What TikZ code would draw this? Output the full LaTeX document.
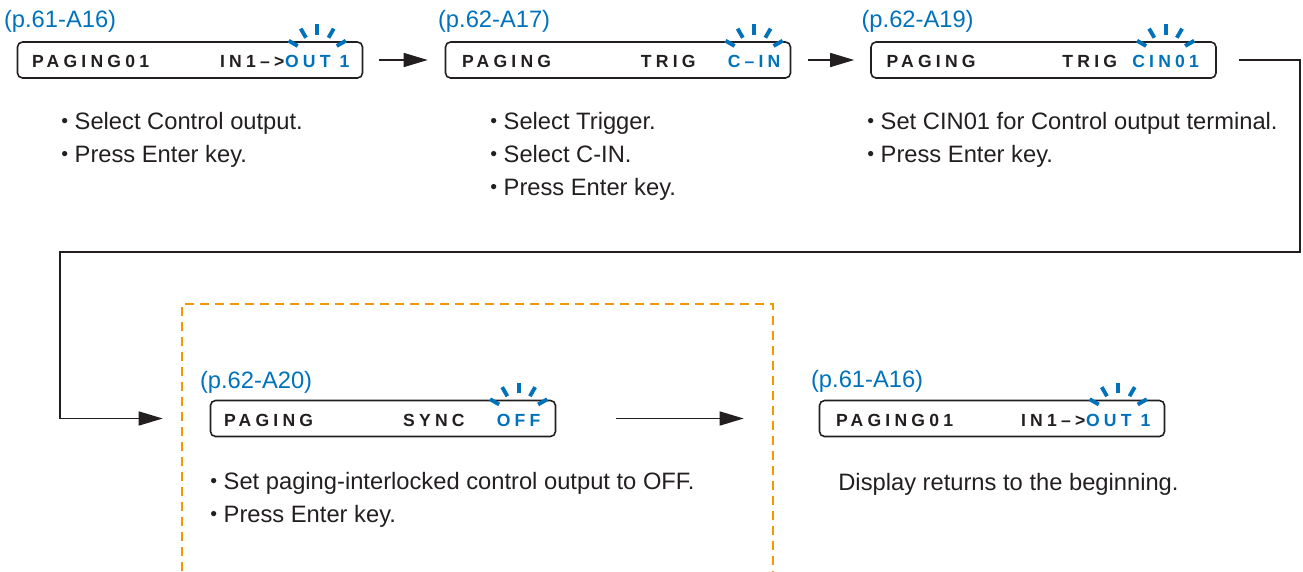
\documentclass[tikz,border=0pt]{standalone}
\usepackage{fontspec}
\setmainfont{Liberation Sans}
\newfontfamily\lcdfont{Liberation Sans}[LetterSpace=24]
\usepackage{xcolor}
\usepackage{tikz}
\usetikzlibrary{arrows.meta,positioning,calc}
\definecolor{lcdblue}{RGB}{0,114,188}
\definecolor{noteorange}{RGB}{243,152,0}
\definecolor{inkgray}{RGB}{35,31,32}
\newcommand{\itemdot}{\raisebox{1.1pt}{\fontsize{11}{11}\selectfont•}~}
\tikzset{
  lcd/.style={draw=inkgray, line width=0.9pt, rounded corners=0.1cm, minimum width=6.9cm, minimum height=0.72cm, inner sep=0pt},
  lcdtxt/.style={inner sep=0pt, text=inkgray, font=\lcdfont\bfseries\fontsize{10}{11}\selectfont},
  lcdval/.style={lcdtxt, text=lcdblue},
  pref/.style={inner sep=0pt, anchor=base west, text=lcdblue, font=\fontsize{13.5}{16}\selectfont},
  note/.style={inner sep=0pt, anchor=north west, align=left, text=inkgray, font=\fontsize{13.5}{18.8}\selectfont},
  flow/.style={draw=inkgray, line width=0.85pt, -{Triangle[length=0.48cm,width=0.28cm]}},
  blinkdash/.style={draw=lcdblue, line width=2.2pt},
}
\newcommand{\blinkat}[2]{%
  \coordinate (#1c) at ($(#1.center |- #2.north)+(0,-0.32)$);
  \foreach \ang in {30,60,90,120,150}
    \draw[blinkdash] ($(#1c)+(\ang:0.45)$) -- ($(#1c)+(\ang:0.66)$);
}
\begin{document}
\begin{tikzpicture}
  \useasboundingbox (0,0) rectangle (26.06,-11.42);
  \node[lcd] (d1) at (3.8,-1.2) {};
  \node[lcd] (d2) at (12.36,-1.2) {};
  \node[lcd] (d3) at (20.87,-1.2) {};
  \node[lcd] (d4) at (7.66,-8.37) {};
  \node[lcd] (d5) at (19.84,-8.37) {};

  \node[pref] (p1) at ([xshift=-0.26cm,yshift=0.27cm]d1.north west) {(p.61-A16)};
  \node[pref] (p2) at ([xshift=-0.14cm,yshift=0.27cm]d2.north west) {(p.62-A17)};
  \node[pref] (p3) at ([xshift=-0.18cm,yshift=0.27cm]d3.north west) {(p.62-A19)};
  \node[pref] (p4) at ([xshift=-0.2cm,yshift=0.23cm]d4.north west) {(p.62-A20)};
  \node[pref] (p5) at ([xshift=-0.16cm,yshift=0.25cm]d5.north west) {(p.61-A16)};

  \node[lcdtxt, anchor=base west] (t1) at ([xshift=0.3cm,yshift=-0.15cm]d1.west) {PAGING01};
  \node[lcdval, anchor=base east] (v1) at ([xshift=-0.27cm,yshift=-0.15cm]d1.east) {OUT 1};
  \node[lcdtxt, anchor=base east] (k1) at (v1.base west) {IN1–>};
  \node[lcdtxt, anchor=base west] (t2) at ([xshift=0.34cm,yshift=-0.15cm]d2.west) {PAGING};
  \node[lcdval, anchor=base east] (v2) at ([xshift=-0.21cm,yshift=-0.15cm]d2.east) {C–IN};
  \node[lcdtxt, anchor=base east] (k2) at ([xshift=-0.63cm]v2.base west) {TRIG};
  \node[lcdtxt, anchor=base west] (t3) at ([xshift=0.32cm,yshift=-0.15cm]d3.west) {PAGING};
  \node[lcdval, anchor=base east] (v3) at ([xshift=-0.35cm,yshift=-0.15cm]d3.east) {CIN01};
  \node[lcdtxt, anchor=base east] (k3) at ([xshift=-0.29cm]v3.base west) {TRIG};
  \node[lcdtxt, anchor=base west] (t4) at ([xshift=0.28cm,yshift=-0.15cm]d4.west) {PAGING};
  \node[lcdval, anchor=base east] (v4) at ([xshift=-0.31cm,yshift=-0.15cm]d4.east) {OFF};
  \node[lcdtxt, anchor=base east] (k4) at ([xshift=-0.63cm]v4.base west) {SYNC};
  \node[lcdtxt, anchor=base west] (t5) at ([xshift=0.34cm,yshift=-0.15cm]d5.west) {PAGING01};
  \node[lcdval, anchor=base east] (v5) at ([xshift=-0.29cm,yshift=-0.15cm]d5.east) {OUT 1};
  \node[lcdtxt, anchor=base east] (k5) at (v5.base west) {IN1–>};

  \blinkat{v1}{d1}
  \blinkat{v2}{d2}
  \blinkat{v3}{d3}
  \blinkat{v4}{d4}
  \blinkat{v5}{d5}

  \node[note] (n1) at (1.22,-2.24) {\itemdot Select Control output.\\\itemdot Press Enter key.};
  \node[note] (n2) at (9.8,-2.24) {\itemdot Select Trigger.\\\itemdot Select C-IN.\\\itemdot Press Enter key.};
  \node[note] (n3) at (17.34,-2.24) {\itemdot Set CIN01 for Control output terminal.\\\itemdot Press Enter key.};
  \node[note] (n4) at (4.2,-9.44) {\itemdot Set paging-interlocked control output to OFF.\\\itemdot Press Enter key.};
  \node[note] (n5) at (16.76,-9.46) {Display returns to the beginning.};

  \draw[flow] ([xshift=0.32cm]d1.east) -- ([xshift=-0.34cm]d2.west);
  \draw[flow] ([xshift=0.34cm]d2.east) -- ([xshift=-0.32cm]d3.west);
  \coordinate (turnR) at (26.0,-5.04);
  \coordinate (turnL) at (1.2,-5.04);
  \draw[flow] ([xshift=0.44cm]d3.east) -| (turnR) -- (turnL) |- ([xshift=-0.94cm]d4.west);
  \draw[flow] ([xshift=1.2cm]d4.east) -- ([xshift=-1.5cm]d5.west);

  \draw[noteorange, line width=1.1pt, dash pattern=on 0.18cm off 0.12cm] (3.64,-11.42) |- (15.46,-6.08) -- (15.46,-11.42);
\end{tikzpicture}
\end{document}
